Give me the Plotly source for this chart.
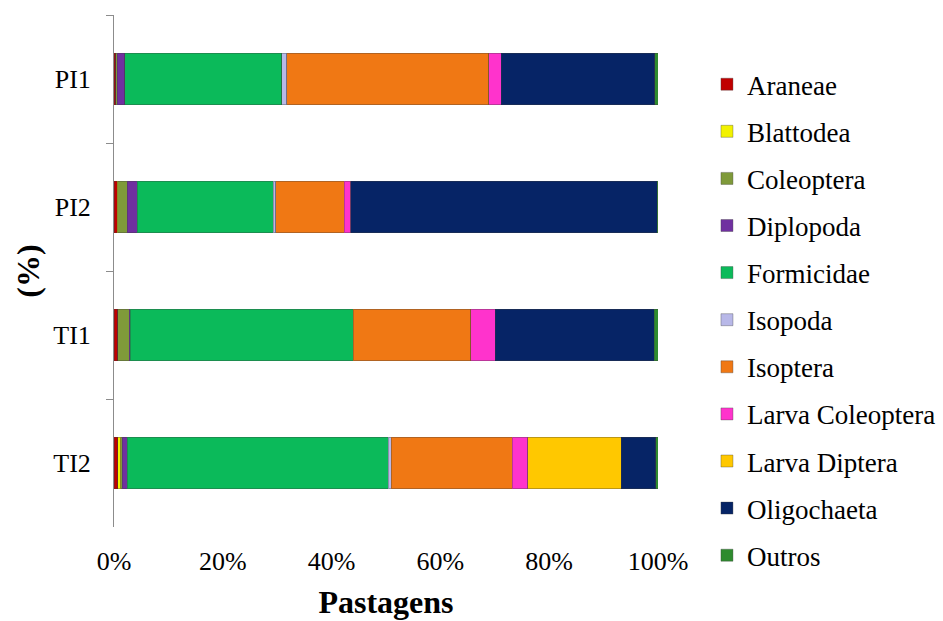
import plotly.graph_objects as go

# Pasture sites (top to bottom)
sites = ["PI1", "PI2", "TI1", "TI2"]

# Relative abundance (%) of each taxon per site
araneae = [0.3, 0.6, 0.7, 0.7]
blattodea = [0.0, 0.1, 0.0, 0.5]
coleoptera = [0.3, 1.7, 2.1, 0.3]
diplopoda = [1.4, 1.9, 0.2, 0.9]
formicidae = [28.8, 25.0, 41.0, 48.0]
isopoda = [1.0, 0.4, 0.0, 0.6]
isoptera = [37.1, 12.6, 21.6, 22.2]
larva_coleoptera = [2.3, 1.2, 4.5, 2.9]
larva_diptera = [0.0, 0.0, 0.0, 17.1]
oligochaeta = [28.2, 56.4, 29.2, 6.4]
outros = [0.6, 0.1, 0.7, 0.4]

# x-axis ticks
x_ticks = [0, 20, 40, 60, 80, 100]
x_tick_labels = ["0%", "20%", "40%", "60%", "80%", "100%"]

series = [
    ("Araneae", araneae, "#C00000"),
    ("Blattodea", blattodea, "#F2F200"),
    ("Coleoptera", coleoptera, "#7F9A3A"),
    ("Diplopoda", diplopoda, "#7030A0"),
    ("Formicidae", formicidae, "#0BBA5A"),
    ("Isopoda", isopoda, "#B8B8E8"),
    ("Isoptera", isoptera, "#F07814"),
    ("Larva Coleoptera", larva_coleoptera, "#FF33CC"),
    ("Larva Diptera", larva_diptera, "#FFC800"),
    ("Oligochaeta", oligochaeta, "#062466"),
    ("Outros", outros, "#2E8B2E"),
]

serif = "Liberation Serif"

fig = go.Figure()
for name, vals, color in series:
    fig.add_trace(go.Bar(
        y=sites, x=vals, name=name, orientation="h",
        marker=dict(color=color, line=dict(color="rgba(60,60,60,0.35)", width=1)),
        legendgroup=name,
    ))

fig.update_layout(
    barmode="stack",
    barnorm="percent",
    bargap=0.6,
    width=943, height=621,
    margin=dict(l=114, r=285, t=15, b=94, autoexpand=False),
    plot_bgcolor="white", paper_bgcolor="white",
    font=dict(family=serif, size=26, color="black"),
    legend=dict(
        x=1.09, y=0.404, xanchor="left", yanchor="middle",
        traceorder="grouped", tracegroupgap=9,
        font=dict(family=serif, size=27, color="black"),
        itemwidth=30, maxheight=610,
    ),
    xaxis=dict(
        range=[0, 100], tickvals=x_ticks, ticktext=x_tick_labels,
        showgrid=False, zeroline=False, showline=False,
        ticks="", ticklabelstandoff=16,
        tickfont=dict(family=serif, size=26, color="black"),
        title=dict(text="<b>Pastagens</b>",
                   font=dict(family=serif, size=32, color="black"), standoff=15),
    ),
    yaxis=dict(
        categoryorder="array", categoryarray=sites, autorange="reversed",
        showline=True, linecolor="#8C8C8C", linewidth=1,
        ticks="outside", tickson="boundaries", ticklen=7, tickcolor="#8C8C8C",
        showgrid=False, ticklabelstandoff=17,
        tickfont=dict(family=serif, size=26, color="black"),
        title=dict(text="<b>(%)</b>",
                   font=dict(family=serif, size=32, color="black"), standoff=4),
    ),
)

fig.write_html("out.html")
